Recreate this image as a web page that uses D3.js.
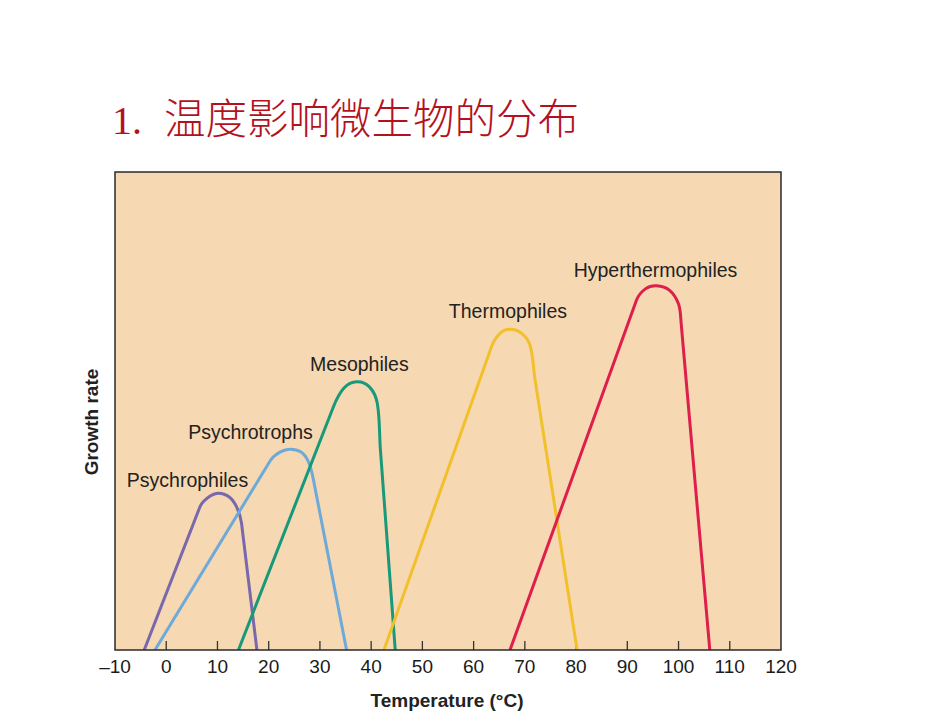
<!DOCTYPE html>
<html>
<head>
<meta charset="utf-8">
<script src="https://cdn.jsdelivr.net/npm/d3@7"></script>
<style>
  body { margin: 0; background: #fff; }
  svg text { font-family: "Liberation Sans", Arial, sans-serif; }
</style>
</head>
<body>
<div id="chart"></div>
<script>
const width = 950,
    height = 713;

// temperature (°C) vs relative growth rate
// first and last points sit on the axis, the ones between trace the rounded top
const psychrophiles = [[-4.3, 0], [6.6, 30.0], [8.3, 32.0], [10.2, 32.8], [12.3, 32.0], [13.8, 29.8], [14.7, 26.5], [17.7, 0]];
const psychrotrophs = [[-2.2, 0], [20.3, 39.6], [22.2, 41.4], [24.2, 42.0], [26.3, 41.4], [27.7, 39.5], [28.7, 35.8], [35.2, 0]];
const mesophiles = [[14.1, 0], [32.6, 50.8], [34.7, 54.8], [37.2, 56.1], [39.7, 55.0], [41.2, 51.6], [41.8, 42.0], [44.7, 0]];
const thermophiles = [[42.5, 0], [63.5, 63.5], [65.2, 66.3], [67.1, 67.1], [69.3, 66.3], [71.0, 63.8], [72.0, 56.5], [80.2, 0]];
const hyperthermophiles = [[67.1, 0], [91.8, 73.2], [93.6, 75.6], [95.7, 76.2], [98.2, 75.3], [100.0, 72.4], [100.5, 68.5], [106.1, 0]];

const seriesNames = ["Psychrophiles", "Psychrotrophs", "Mesophiles", "Thermophiles", "Hyperthermophiles"];
const seriesData = [psychrophiles, psychrotrophs, mesophiles, thermophiles, hyperthermophiles];
const seriesColors = ["#7a68ad", "#6eaad8", "#17997a", "#f1c02b", "#de1f4b"];
// label anchor (temp, rate) for each curve name
const labelPos = [[4.15, 34.1], [16.45, 44.1], [37.7, 58.4], [66.7, 69.5], [95.5, 78.0]];

const xTicks = d3.range(-10, 121, 10);

const margin = {top: 172, right: 169, bottom: 63, left: 115};
const plotW = width - margin.left - margin.right,
    plotH = height - margin.top - margin.bottom;

const svg = d3.select("#chart").append("svg")
    .attr("width", width)
    .attr("height", height);

// title
const title = svg.append("text")
    .attr("x", 112)
    .attr("y", 134)
    .attr("fill", "#b3121c")
    .style("font-size", "40px");
title.append("tspan")
    .style("font-family", "'Liberation Serif', serif")
    .text("1.");
title.append("tspan")
    .attr("dx", 22)
    .style("font-family", "'Noto Sans CJK SC', sans-serif")
    .style("font-size", "41.5px")
    .style("font-weight", 300)
    .text("温度影响微生物的分布");

const g = svg.append("g")
    .attr("transform", `translate(${margin.left},${margin.top})`);

const x = d3.scaleLinear().domain([-10, 120]).range([0, plotW]);
const y = d3.scaleLinear().domain([0, 100]).range([plotH, 0]);

g.append("rect")
    .attr("width", plotW)
    .attr("height", plotH)
    .attr("fill", "#f6d8b3");

// inner ticks on the bottom edge
g.append("g")
    .selectAll("line")
    .data(xTicks.filter(d => d > -10 && d < 120))
    .join("line")
    .attr("x1", d => x(d))
    .attr("x2", d => x(d))
    .attr("y1", plotH)
    .attr("y2", plotH - 9)
    .attr("stroke", "#333")
    .attr("stroke-width", 1.3);

// straight rise and fall, smooth spline through the top points
function growthPath(data) {
    const pts = data.map(d => [x(d[0]), y(d[1])]);
    const n = pts.length;
    const tangent = i => {
        const dx = pts[i + 1][0] - pts[i - 1][0],
            dy = pts[i + 1][1] - pts[i - 1][1];
        const l = Math.hypot(dx, dy);
        return [dx / l, dy / l];
    };
    const p = d3.path();
    p.moveTo(pts[0][0], pts[0][1]);
    p.lineTo(pts[1][0], pts[1][1]);
    for (let i = 1; i < n - 2; i++) {
        const a = pts[i], b = pts[i + 1];
        const k = Math.hypot(b[0] - a[0], b[1] - a[1]) / 3;
        const ta = tangent(i), tb = tangent(i + 1);
        p.bezierCurveTo(a[0] + ta[0] * k, a[1] + ta[1] * k,
            b[0] - tb[0] * k, b[1] - tb[1] * k, b[0], b[1]);
    }
    p.lineTo(pts[n - 1][0], pts[n - 1][1]);
    return p.toString();
}

const clip = svg.append("defs").append("clipPath").attr("id", "plotclip");
clip.append("rect").attr("width", plotW).attr("height", plotH);

g.append("g")
    .attr("clip-path", "url(#plotclip)")
    .selectAll("path")
    .data(seriesData)
    .join("path")
    .attr("d", growthPath)
    .attr("fill", "none")
    .attr("stroke", (d, i) => seriesColors[i])
    .attr("stroke-width", 3)
    .attr("stroke-linejoin", "round");

g.selectAll(".curve-label")
    .data(seriesNames)
    .join("text")
    .attr("class", "curve-label")
    .attr("x", (d, i) => x(labelPos[i][0]))
    .attr("y", (d, i) => y(labelPos[i][1]))
    .attr("text-anchor", "middle")
    .attr("fill", "#222")
    .style("font-size", "19.5px")
    .text(d => d);

// frame
g.append("rect")
    .attr("width", plotW)
    .attr("height", plotH)
    .attr("fill", "none")
    .attr("stroke", "#2a2a2a")
    .attr("stroke-width", 1.5);

// tick labels
g.append("g")
    .selectAll("text")
    .data(xTicks)
    .join("text")
    .attr("x", d => x(d))
    .attr("y", plotH + 23)
    .attr("text-anchor", "middle")
    .attr("fill", "#1a1a1a")
    .style("font-size", "19px")
    .text(d => d < 0 ? "\u2013" + Math.abs(d) : d);

g.append("text")
    .attr("x", plotW / 2 - 1)
    .attr("y", plotH + 57)
    .attr("text-anchor", "middle")
    .attr("fill", "#222")
    .style("font-size", "19px")
    .style("font-weight", "bold")
    .text("Temperature (°C)");

g.append("text")
    .attr("transform", `translate(-17,${plotH / 2 + 11}) rotate(-90)`)
    .attr("text-anchor", "middle")
    .attr("fill", "#222")
    .style("font-size", "19px")
    .style("font-weight", "bold")
    .text("Growth rate");
</script>
</body>
</html>
